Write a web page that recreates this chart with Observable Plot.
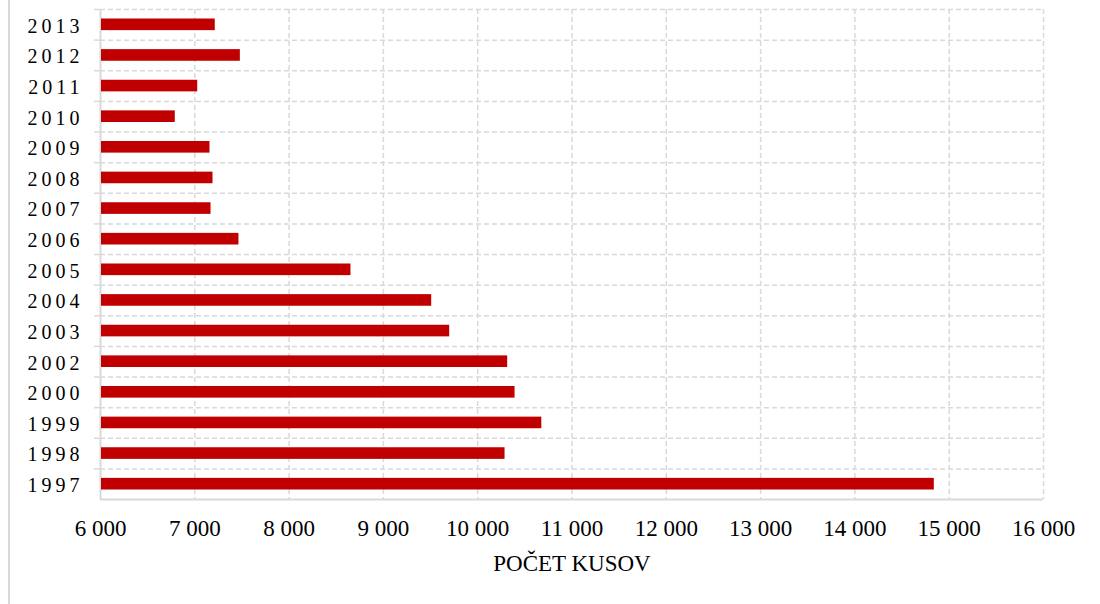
<!DOCTYPE html>
<html>
<head>
<meta charset="utf-8">
<script src="https://cdn.jsdelivr.net/npm/d3@7"></script>
<script src="https://cdn.jsdelivr.net/npm/@observablehq/plot@0.6"></script>
<style>
  html, body { margin: 0; padding: 0; background: #fff; }
  #wrap { position: relative; width: 1100px; height: 604px; overflow: hidden; }
  #frame { position: absolute; left: 8px; top: 0; width: 2px; height: 604px; background: #d9d9d9; }
  svg { font-family: "Liberation Serif", "Times New Roman", serif; }
</style>
</head>
<body>
<div id="wrap"><div id="frame"></div></div>
<script>
const years = ["2013","2012","2011","2010","2009","2008","2007","2006","2005","2004","2003","2002","2000","1999","1998","1997"];
const values = [7217, 7483, 7031, 6793, 7161, 7193, 7172, 7468, 8656, 9512, 9703, 10318, 10396, 10680, 10290, 14842];
const xTicks = [6000, 7000, 8000, 9000, 10000, 11000, 12000, 13000, 14000, 15000, 16000];
const xTitle = "POČET KUSOV";

const data = years.map((y, i) => ({year: y, value: values[i]}));

const W = 1100, H = 604, mt = 9, mb = 105, ml = 100, mr = 57;
const band = (H - mt - mb) / years.length;
const grid = "#d9d9d9";
const fmt = d => d3.format(",")(d).replace(/,/g, " ");

const chart = Plot.plot({
  width: W,
  height: H,
  marginTop: mt,
  marginBottom: mb,
  marginLeft: ml,
  marginRight: mr,
  style: {fontFamily: "'Liberation Serif', 'Times New Roman', serif", color: "#000", background: "#fff"},
  x: {domain: [6000, 16000], ticks: xTicks},
  y: {type: "band", domain: years, padding: 0, round: false},
  marks: [
    Plot.ruleX(xTicks.slice(1), {stroke: grid, strokeWidth: 1.5, strokeDasharray: "5,3"}),
    Plot.ruleY(years, {y: d => d, dy: -band / 2, x1: 6000, x2: 16000, stroke: grid, strokeWidth: 1.5, strokeDasharray: "5,3"}),
    Plot.axisY({tickSize: 6, fill: "none", stroke: grid, strokeWidth: 1.5, dy: -band / 2, tickFormat: () => ""}),
    Plot.ruleX([6000], {stroke: grid, strokeWidth: 2}),
    Plot.barX(data, {y: "year", x1: 6000, x2: "value", fill: "#c00000", insetTop: 9.5, insetBottom: 9.5, insetLeft: 1}),
    Plot.ruleY([years[years.length - 1]], {dy: band / 2, x1: 6000, x2: 16000, stroke: grid, strokeWidth: 2}),
    Plot.axisY({tickSize: 0, tickPadding: 17, fontSize: 20, dy: 1.5, label: null}),
    Plot.axisX({ticks: xTicks, tickSize: 0, tickPadding: 20, fontSize: 23, tickFormat: fmt, label: null}),
    Plot.text([xTitle], {frameAnchor: "bottom", dy: 71, lineAnchor: "bottom", fontSize: 23, fill: "#000", text: d => d})
  ]
});

document.getElementById("wrap").appendChild(chart);
chart.querySelectorAll("g[aria-label='y-axis tick label'] text").forEach(t => t.style.letterSpacing = "4px");
</script>
</body>
</html>
